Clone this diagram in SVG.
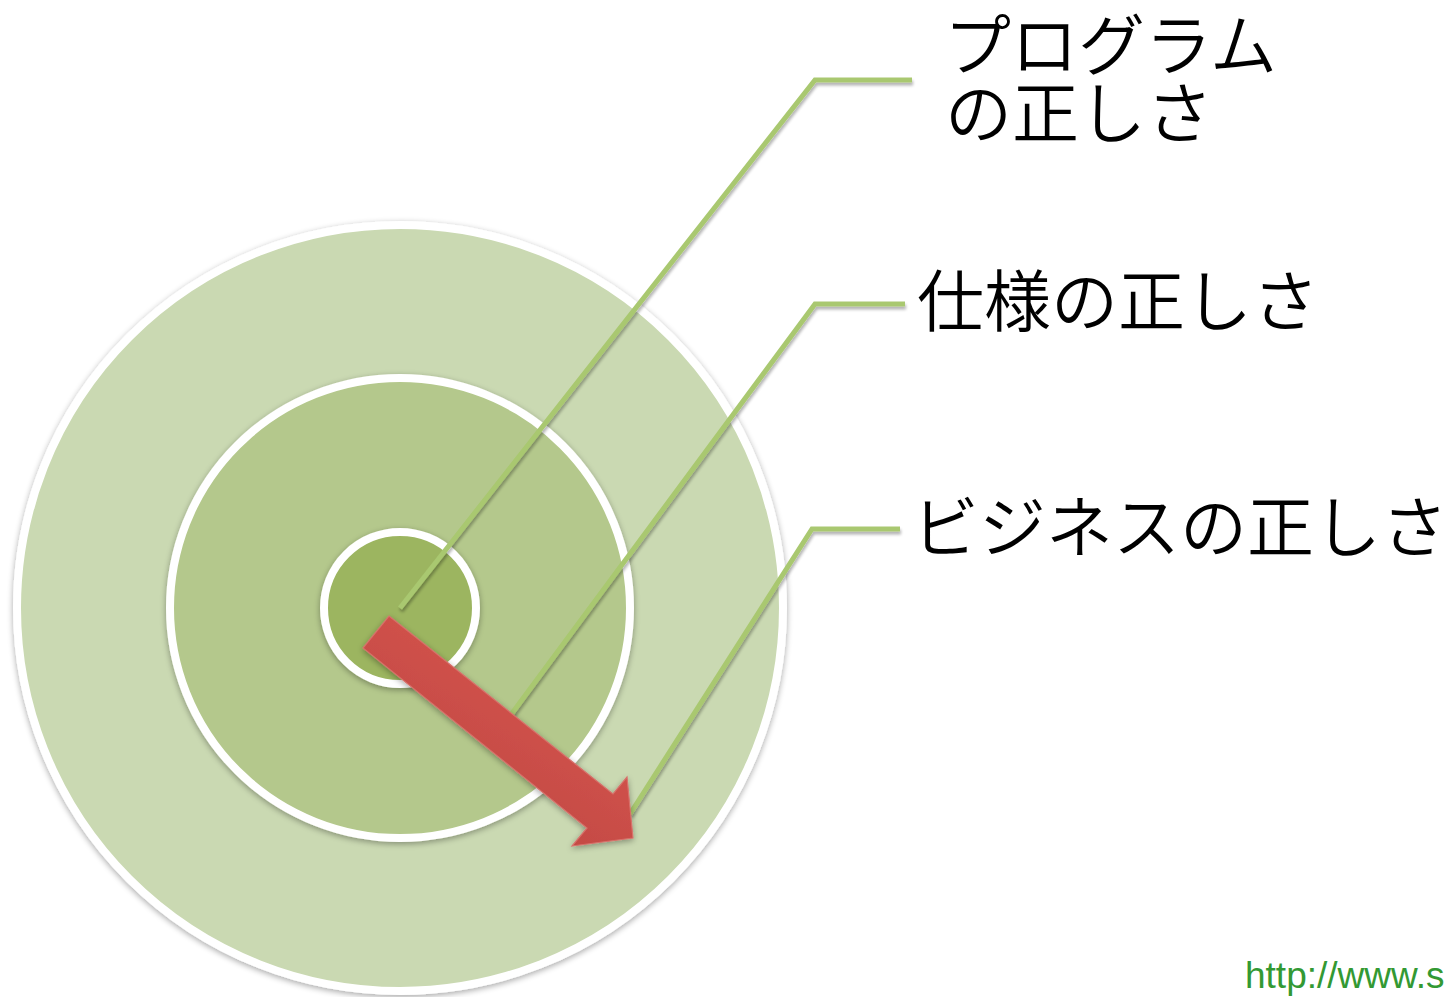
<svg xmlns="http://www.w3.org/2000/svg" width="1446" height="997" viewBox="0 0 1446 997">
  <defs>
    <filter id="shadow" x="-20%" y="-20%" width="140%" height="140%">
      <feGaussianBlur in="SourceAlpha" stdDeviation="3"/>
      <feOffset dx="0" dy="2" result="b"/>
      <feComponentTransfer><feFuncA type="linear" slope="0.35"/></feComponentTransfer>
      <feMerge><feMergeNode/><feMergeNode in="SourceGraphic"/></feMerge>
    </filter>
    <filter id="lshadow" x="-10%" y="-10%" width="120%" height="120%">
      <feGaussianBlur in="SourceAlpha" stdDeviation="1.5"/>
      <feOffset dx="1" dy="3"/>
      <feComponentTransfer><feFuncA type="linear" slope="0.3"/></feComponentTransfer>
      <feMerge><feMergeNode/><feMergeNode in="SourceGraphic"/></feMerge>
    </filter>
    <linearGradient id="arrowGrad" x1="0" y1="0" x2="1" y2="0" gradientUnits="objectBoundingBox" gradientTransform="rotate(128 0.5 0.5)">
      <stop offset="0" stop-color="#DA5750"/>
      <stop offset="1" stop-color="#BC4640"/>
    </linearGradient>
    <style>
      .ring { stroke: #FFFFFF; stroke-width: 8; }
      .leader { fill: none; stroke: #A9C870; stroke-width: 5; stroke-linejoin: miter; }
      .label { font-family: "Noto Sans CJK JP", "Noto Sans", sans-serif; font-size: 67px; font-weight: 350; fill: #000000; }
      .url { font-family: "Liberation Sans", Arial, sans-serif; font-size: 37px; fill: #339933; }
    </style>
  </defs>

  <g id="ring-outer" filter="url(#shadow)">
    <circle class="ring" cx="400" cy="608" r="383" fill="#CAD9B2"/>
  </g>
  <g id="ring-middle" filter="url(#shadow)">
    <circle class="ring" cx="400" cy="608" r="230" fill="#B4C88C"/>
  </g>
  <g id="ring-inner" filter="url(#shadow)">
    <circle class="ring" cx="400" cy="608" r="76" fill="#9CB561"/>
  </g>

  <g id="connectors" filter="url(#lshadow)">
    <polyline class="leader" points="400,608 815,80 912,80"/>
    <polyline class="leader" points="510,716 815,304 905,304"/>
    <polyline class="leader" points="630,814 812,529 900,529"/>
  </g>

  <g id="arrow" filter="url(#shadow)">
    <polygon points="389,616 613,794 627,777 633,838 572,846 587,828 363,648" fill="url(#arrowGrad)" stroke="#D7716B" stroke-width="1.2" stroke-linejoin="miter"/>
  </g>

  <g id="label-program">
    <text class="label" x="944" y="70">プログラム</text>
    <text class="label" x="945" y="138">の正しさ</text>
  </g>
  <g id="label-spec">
    <text class="label" x="917" y="326">仕様の正しさ</text>
  </g>
  <g id="label-business">
    <text class="label" x="912" y="552">ビジネスの正しさ</text>
  </g>
  <g id="url">
    <text class="url" x="1245" y="988">http://www.s</text>
  </g>
</svg>
